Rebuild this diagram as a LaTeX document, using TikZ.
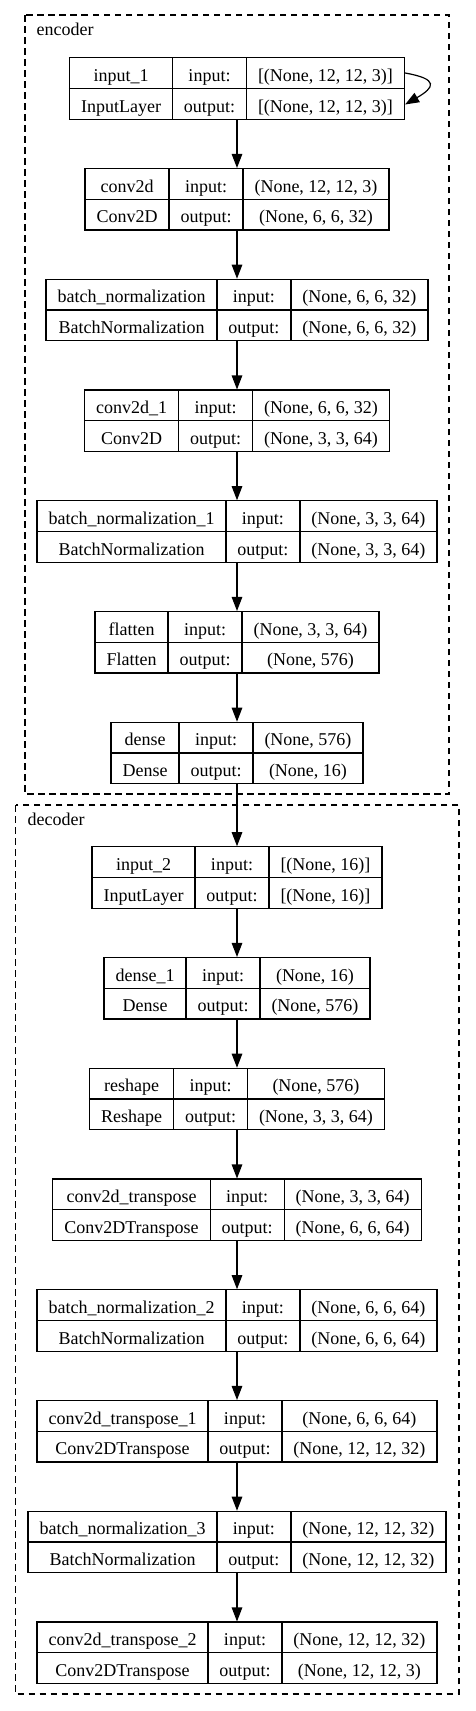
\documentclass[tikz,border=0pt]{standalone}
\usepackage{fontspec}
\setmainfont{Liberation Serif}
\usepackage{array}
\usetikzlibrary{arrows.meta}

\setlength{\tabcolsep}{10.9pt}
\setlength{\arrayrulewidth}{1.2pt}
\newcommand{\rowstrut}{\rule[-6.3pt]{0pt}{29.3pt}}
\newcommand{\keraslayer}[4]{%
  \begin{tabular}{|c|c|c|}
    \hline
    #1\rowstrut & input: & #3 \\ \hline
    #2\rowstrut & output: & #4 \\ \hline
  \end{tabular}}

\tikzset{
  layer/.style = {inner sep=0pt, outer sep=0pt, font=\fontsize{18pt}{21.6pt}\selectfont},
  clabel/.style = {anchor=base west, inner sep=0pt, font=\fontsize{18pt}{21.6pt}\selectfont},
  cluster/.style = {line width=1.2pt, dash pattern=on 6.5pt off 4.5pt},
  edge/.style = {line width=1.2pt, -{Triangle[length=14pt,width=10.5pt]}}
}

\begin{document}
\begin{tikzpicture}[x=1pt, y=-1pt]
  \useasboundingbox (0,0) rectangle (475,1711);

  % clusters
  \draw[cluster] (25,15) rectangle (449,794);
  \node[clabel] (enclabel) at (36.5,35.5) {encoder};
  \draw[cluster] (15.7,805) rectangle (459,1694);
  \node[clabel] (declabel) at (27.5,825.7) {decoder};

  % encoder
  \node[layer] (input1) at (237,88.5) {\keraslayer{input\_1}{InputLayer}{[(None, 12, 12, 3)]}{[(None, 12, 12, 3)]}};
  \node[layer] (conv2d) at (237,199.25) {\keraslayer{conv2d}{Conv2D}{(None, 12, 12, 3)}{(None, 6, 6, 32)}};
  \node[layer] (bnorm) at (237,310) {\keraslayer{batch\_normalization}{BatchNormalization}{(None, 6, 6, 32)}{(None, 6, 6, 32)}};
  \node[layer] (conv2d1) at (237,420.75) {\keraslayer{conv2d\_1}{Conv2D}{(None, 6, 6, 32)}{(None, 3, 3, 64)}};
  \node[layer] (bnorm1) at (237,531.5) {\keraslayer{batch\_normalization\_1}{BatchNormalization}{(None, 3, 3, 64)}{(None, 3, 3, 64)}};
  \node[layer] (flatten) at (237,642.25) {\keraslayer{flatten}{Flatten}{(None, 3, 3, 64)}{(None, 576)}};
  \node[layer] (dense) at (237,753) {\keraslayer{dense}{Dense}{(None, 576)}{(None, 16)}};

  % decoder
  \node[layer] (input2) at (237,877.5) {\keraslayer{input\_2}{InputLayer}{[(None, 16)]}{[(None, 16)]}};
  \node[layer] (dense1) at (237,988.25) {\keraslayer{dense\_1}{Dense}{(None, 16)}{(None, 576)}};
  \node[layer] (reshape) at (237,1099) {\keraslayer{reshape}{Reshape}{(None, 576)}{(None, 3, 3, 64)}};
  \node[layer] (deconv) at (237,1209.75) {\keraslayer{conv2d\_transpose}{Conv2DTranspose}{(None, 3, 3, 64)}{(None, 6, 6, 64)}};
  \node[layer] (bnorm2) at (237,1320.5) {\keraslayer{batch\_normalization\_2}{BatchNormalization}{(None, 6, 6, 64)}{(None, 6, 6, 64)}};
  \node[layer] (deconv1) at (237,1431.25) {\keraslayer{conv2d\_transpose\_1}{Conv2DTranspose}{(None, 6, 6, 64)}{(None, 12, 12, 32)}};
  \node[layer] (bnorm3) at (237,1542) {\keraslayer{batch\_normalization\_3}{BatchNormalization}{(None, 12, 12, 32)}{(None, 12, 12, 32)}};
  \node[layer] (deconv2) at (237,1652.75) {\keraslayer{conv2d\_transpose\_2}{Conv2DTranspose}{(None, 12, 12, 32)}{(None, 12, 12, 3)}};

  % edges
  \draw[edge] ([yshift=15.5pt]input1.east) to[out=-10, in=30, looseness=2.8] ([yshift=-16pt]input1.east);
  \draw[edge] (input1.south) -- (conv2d.north);
  \draw[edge] (conv2d.south) -- (bnorm.north);
  \draw[edge] (bnorm.south) -- (conv2d1.north);
  \draw[edge] (conv2d1.south) -- (bnorm1.north);
  \draw[edge] (bnorm1.south) -- (flatten.north);
  \draw[edge] (flatten.south) -- (dense.north);
  \draw[edge] (dense.south) -- (input2.north);
  \draw[edge] (input2.south) -- (dense1.north);
  \draw[edge] (dense1.south) -- (reshape.north);
  \draw[edge] (reshape.south) -- (deconv.north);
  \draw[edge] (deconv.south) -- (bnorm2.north);
  \draw[edge] (bnorm2.south) -- (deconv1.north);
  \draw[edge] (deconv1.south) -- (bnorm3.north);
  \draw[edge] (bnorm3.south) -- (deconv2.north);
\end{tikzpicture}
\end{document}
